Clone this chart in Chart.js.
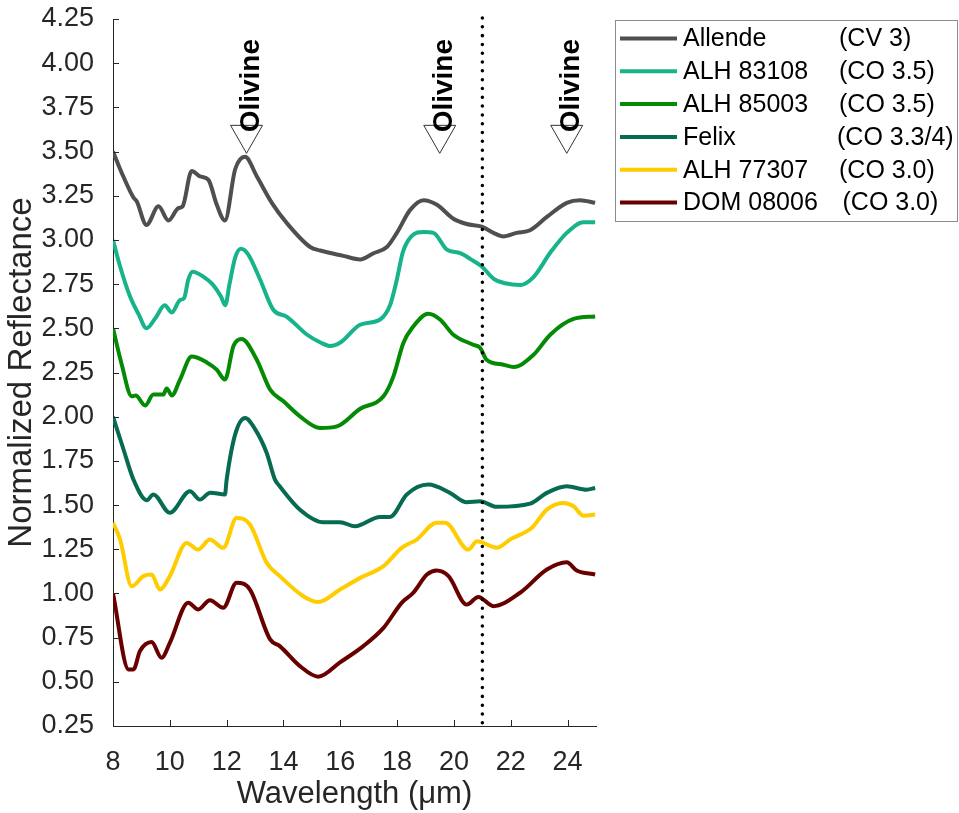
<!DOCTYPE html>
<html>
<head>
<meta charset="utf-8">
<script src="https://cdn.jsdelivr.net/npm/chart.js@4.4.1/dist/chart.umd.min.js"></script>
<style>
body { margin: 0; background: #fff; }
#wrap { width: 959px; height: 813px; }
</style>
</head>
<body>
<div id="wrap"><canvas id="chart" width="959" height="813"></canvas></div>
<script>
// tick labels
var xTicks = [8, 10, 12, 14, 16, 18, 20, 22, 24];
var yTicks = [0.25, 0.5, 0.75, 1, 1.25, 1.5, 1.75, 2, 2.25, 2.5, 2.75, 3, 3.25, 3.5, 3.75, 4, 4.25];

// series
var names = ["Allende", "ALH 83108", "ALH 85003", "Felix", "ALH 77307", "DOM 08006"];
var classes = ["(CV 3)", "(CO 3.5)", "(CO 3.5)", "(CO 3.3/4)", "(CO 3.0)", "(CO 3.0)"];
var colors = ["#4f4f4f", "#17b38a", "#058a05", "#066b50", "#ffcc00", "#680000"];

var allendeX = [8.0, 8.36, 8.72, 8.83, 9.18, 9.6, 9.95, 10.3, 10.45, 10.77, 11.06, 11.36, 11.65, 11.94, 12.3, 12.65, 13.06, 13.59, 14.12, 14.94, 15.29, 16.11, 16.7, 17.17, 17.64, 17.99, 18.46, 18.93, 19.39, 19.98, 20.45, 20.98, 21.39, 21.74, 22.21, 22.68, 23.27, 23.97, 24.44, 24.97];
var allendeY = [3.50, 3.36, 3.24, 3.22, 3.085, 3.19, 3.11, 3.18, 3.19, 3.39, 3.36, 3.34, 3.20, 3.11, 3.40, 3.47, 3.36, 3.21, 3.095, 2.96, 2.94, 2.91, 2.89, 2.925, 2.96, 3.04, 3.17, 3.225, 3.20, 3.12, 3.09, 3.075, 3.04, 3.02, 3.04, 3.055, 3.13, 3.21, 3.225, 3.21];

var alh83108X = [8.0, 8.25, 8.6, 8.9, 9.18, 9.5, 9.82, 10.07, 10.36, 10.5, 10.65, 10.8, 11.2, 11.5, 11.8, 11.95, 12.1, 12.3, 12.5, 12.75, 13.18, 13.64, 14.12, 14.82, 15.3, 15.64, 16.0, 16.7, 17.4, 17.75, 17.99, 18.2, 18.5, 18.93, 19.28, 19.75, 20.22, 20.6, 20.98, 21.4, 21.8, 22.33, 22.8, 23.4, 23.97, 24.56, 24.97];
var alh83108Y = [3.00, 2.85, 2.68, 2.58, 2.50, 2.56, 2.63, 2.59, 2.66, 2.67, 2.775, 2.82, 2.79, 2.75, 2.68, 2.63, 2.75, 2.90, 2.95, 2.92, 2.775, 2.605, 2.565, 2.465, 2.42, 2.40, 2.42, 2.52, 2.55, 2.63, 2.775, 2.93, 3.02, 3.045, 3.04, 2.945, 2.925, 2.89, 2.85, 2.78, 2.755, 2.745, 2.79, 2.93, 3.04, 3.10, 3.10];

var alh85003X = [8.0, 8.3, 8.66, 8.8, 9.13, 9.42, 9.77, 9.89, 10.07, 10.36, 10.77, 11.3, 11.65, 11.94, 12.24, 12.53, 13.06, 13.53, 14.0, 14.58, 15.29, 15.88, 16.7, 17.52, 17.87, 18.22, 18.52, 19.1, 19.51, 19.98, 20.68, 20.92, 21.15, 21.74, 22.1, 22.8, 23.39, 24.21, 24.97];
var alh85003Y = [2.50, 2.30, 2.115, 2.12, 2.063, 2.125, 2.125, 2.16, 2.12, 2.21, 2.34, 2.307, 2.266, 2.21, 2.40, 2.44, 2.322, 2.153, 2.087, 2.002, 1.936, 1.945, 2.045, 2.115, 2.228, 2.417, 2.50, 2.582, 2.55, 2.464, 2.407, 2.39, 2.322, 2.294, 2.281, 2.35, 2.464, 2.553, 2.567];

var felixX = [8.0, 8.36, 8.72, 9.19, 9.42, 10.0, 10.71, 11.06, 11.42, 11.94, 12.0, 12.3, 12.65, 13.0, 13.41, 13.7, 13.87, 14.58, 15.4, 15.99, 16.52, 17.4, 17.75, 18.34, 19.1, 19.86, 20.45, 20.92, 21.51, 22.68, 23.27, 23.97, 24.67, 24.97];
var felixY = [2.0, 1.82, 1.644, 1.527, 1.56, 1.456, 1.578, 1.531, 1.57, 1.56, 1.644, 1.90, 1.993, 1.93, 1.795, 1.644, 1.606, 1.474, 1.403, 1.403, 1.38, 1.433, 1.433, 1.56, 1.616, 1.569, 1.516, 1.521, 1.49, 1.508, 1.569, 1.606, 1.587, 1.597];

var alh77307X = [8.0, 8.25, 8.66, 9.07, 9.36, 9.65, 10.0, 10.59, 11.0, 11.41, 11.88, 12.35, 12.82, 13.41, 13.87, 14.7, 15.23, 15.99, 16.7, 17.52, 18.16, 18.69, 19.39, 19.69, 20.51, 20.81, 21.51, 21.98, 22.74, 23.27, 23.85, 24.21, 24.56, 24.97];
var alh77307Y = [1.40, 1.305, 1.04, 1.098, 1.107, 1.022, 1.098, 1.286, 1.248, 1.305, 1.258, 1.427, 1.39, 1.173, 1.098, 0.984, 0.951, 1.022, 1.088, 1.154, 1.258, 1.305, 1.40, 1.40, 1.248, 1.295, 1.258, 1.305, 1.371, 1.474, 1.512, 1.493, 1.44, 1.446];

var dom08006X = [8.0, 8.55, 8.72, 8.95, 9.36, 9.71, 10.0, 10.65, 11.0, 11.41, 11.88, 12.35, 12.82, 13.53, 13.87, 14.58, 15.23, 15.99, 16.81, 17.52, 18.16, 18.57, 19.05, 19.39, 19.81, 20.45, 20.86, 21.39, 22.33, 23.27, 23.97, 24.32, 24.97];
var dom08006Y = [1.0, 0.57, 0.57, 0.674, 0.725, 0.636, 0.72, 0.947, 0.909, 0.962, 0.919, 1.06, 1.022, 0.74, 0.702, 0.589, 0.529, 0.61, 0.702, 0.805, 0.947, 1.004, 1.107, 1.13, 1.098, 0.937, 0.98, 0.928, 1.004, 1.135, 1.176, 1.13, 1.107];

// annotations
var olivineX = [12.7, 19.5, 23.97];
var olivineTip = 3.49;
var dottedX = 21;

var seriesX = [allendeX, alh83108X, alh85003X, felixX, alh77307X, dom08006X];
var seriesY = [allendeY, alh83108Y, alh85003Y, felixY, alh77307Y, dom08006Y];

var FONT = "'Liberation Sans', Arial, Helvetica, sans-serif";
var INK = "#262626";

function pairUp(xs, ys) {
    var out = [];
    for (var i = 0; i < xs.length; i++) out.push({x: xs[i], y: ys[i]});
    return out;
}

var datasets = names.map(function (n, i) {
    return {
        label: n,
        data: pairUp(seriesX[i], seriesY[i]),
        borderColor: colors[i],
        borderWidth: 4,
        pointRadius: 0,
        cubicInterpolationMode: "monotone",
        fill: false
    };
});

var extras = {
    id: "extras",
    afterDatasetsDraw: function (chart) {
        var ctx = chart.ctx, xs = chart.scales.x, ys = chart.scales.y, a = chart.chartArea;
        ctx.save();
        // dotted line
        var px = xs.getPixelForValue(dottedX);
        ctx.strokeStyle = "#000";
        ctx.lineWidth = 3.5;
        ctx.lineCap = "round";
        ctx.setLineDash([0.01, 8.8]);
        ctx.beginPath();
        ctx.moveTo(px, a.top - 1);
        ctx.lineTo(px, a.bottom);
        ctx.stroke();
        ctx.setLineDash([]);
        ctx.lineCap = "butt";

        // olivine markers
        var tipY = ys.getPixelForValue(olivineTip);
        olivineX.forEach(function (v) {
            var cx = xs.getPixelForValue(v);
            ctx.beginPath();
            ctx.moveTo(cx - 16, tipY - 28);
            ctx.lineTo(cx + 16, tipY - 28);
            ctx.lineTo(cx, tipY);
            ctx.closePath();
            ctx.fillStyle = "#fff";
            ctx.fill();
            ctx.strokeStyle = "#333";
            ctx.lineWidth = 1;
            ctx.stroke();

            ctx.save();
            ctx.translate(cx + 12.5, tipY - 21);
            ctx.rotate(-Math.PI / 2);
            ctx.fillStyle = "#000";
            ctx.font = "bold 28px " + FONT;
            ctx.textAlign = "left";
            ctx.textBaseline = "alphabetic";
            ctx.fillText("Olivine", 0, 0);
            ctx.restore();
        });
        ctx.restore();
    },
    afterDraw: function (chart) {
        var ctx = chart.ctx, xs = chart.scales.x, ys = chart.scales.y, a = chart.chartArea;
        ctx.save();
        // inward ticks
        ctx.strokeStyle = INK;
        ctx.lineWidth = 1;
        ctx.beginPath();
        yTicks.forEach(function (v) {
            var py = Math.round(ys.getPixelForValue(v)) + 0.5;
            ctx.moveTo(a.left, py);
            ctx.lineTo(a.left + 6, py);
        });
        xTicks.forEach(function (v) {
            var px = Math.round(xs.getPixelForValue(v)) + 0.5;
            ctx.moveTo(px, a.bottom);
            ctx.lineTo(px, a.bottom - 6);
        });
        ctx.stroke();

        // legend
        ctx.strokeStyle = "#8c8c8c";
        ctx.strokeRect(615.5, 20.5, 342, 201);
        ctx.font = "25px " + FONT;
        ctx.textBaseline = "middle";
        ctx.fillStyle = "#000";
        var classX = [839, 839, 839, 837, 839, 842.5];
        names.forEach(function (n, i) {
            var ry = 38.5 + i * 32.8;
            ctx.strokeStyle = colors[i];
            ctx.lineWidth = 4;
            ctx.beginPath();
            ctx.moveTo(620, ry);
            ctx.lineTo(677, ry);
            ctx.stroke();
            ctx.fillText(n, 683, ry + 1);
            ctx.fillText(classes[i], classX[i], ry + 1);
        });
        ctx.restore();
    }
};

new Chart(document.getElementById("chart"), {
    type: "line",
    data: {datasets: datasets},
    options: {
        responsive: false,
        animation: false,
        events: [],
        layout: {padding: {left: 0, right: 363, top: 19, bottom: 0}},
        plugins: {legend: {display: false}, tooltip: {enabled: false}},
        scales: {
            x: {
                type: "linear",
                min: 8,
                max: 25,
                afterBuildTicks: function (s) { s.ticks = xTicks.map(function (v) { return {value: v}; }); },
                afterFit: function (s) { s.height = 87; s.paddingLeft = 0; s.paddingRight = 0; },
                grid: {display: false},
                border: {display: true, color: INK, width: 1},
                ticks: {color: INK, font: {family: FONT, size: 27}, padding: 12, maxRotation: 0},
                title: {display: true, text: "Wavelength (\u03bcm)", color: INK,
                        font: {family: FONT, size: 31}, padding: {top: 0, bottom: 0}}
            },
            y: {
                min: 0.25,
                max: 4.25,
                afterBuildTicks: function (s) { s.ticks = yTicks.map(function (v) { return {value: v}; }); },
                afterFit: function (s) { s.width = 113; s.paddingTop = 0; s.paddingBottom = 0; },
                grid: {display: false},
                border: {display: true, color: INK, width: 1},
                ticks: {color: INK, font: {family: FONT, size: 27}, padding: 11,
                        callback: function (v) { return Number(v).toFixed(2); }},
                title: {display: true, text: "Normalized Reflectance", color: INK,
                        font: {family: FONT, size: 33}, padding: {top: 2, bottom: 0}}
            }
        }
    },
    plugins: [extras]
});
</script>
</body>
</html>
